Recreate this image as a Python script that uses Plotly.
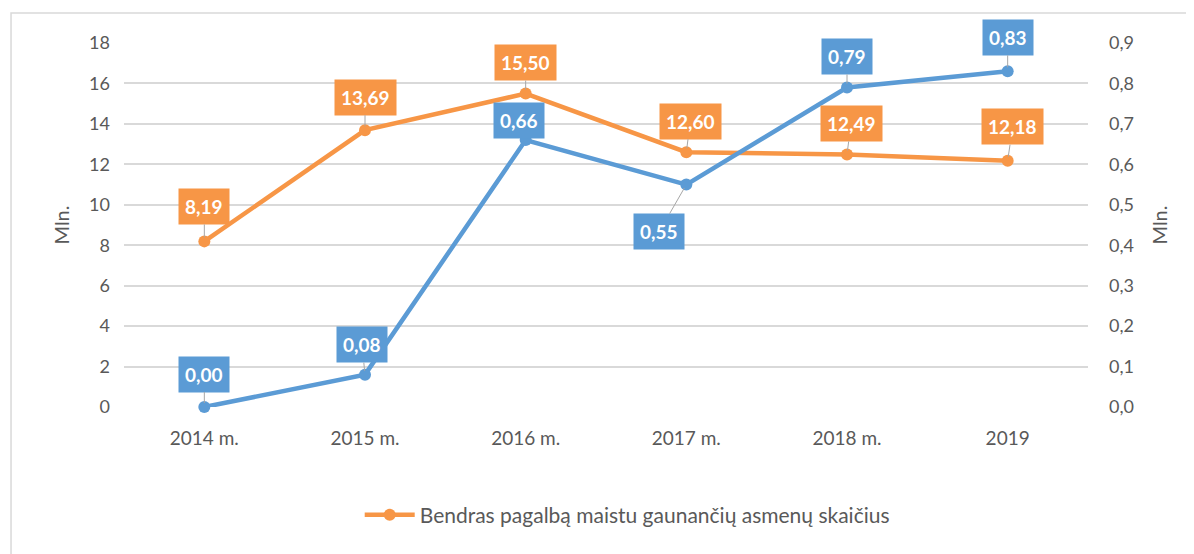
import plotly.graph_objects as go

categories = ["2014 m.", "2015 m.", "2016 m.", "2017 m.", "2018 m.", "2019"]
orange_values = [8.19, 13.69, 15.50, 12.60, 12.49, 12.18]
blue_values = [0.00, 0.08, 0.66, 0.55, 0.79, 0.83]
orange_name = "Bendras pagalbą maistu gaunančių asmenų skaičius"
blue_name = "Mln. (dešinė ašis)"
left_ticks = [0, 2, 4, 6, 8, 10, 12, 14, 16, 18]
right_ticks = [0.0, 0.1, 0.2, 0.3, 0.4, 0.5, 0.6, 0.7, 0.8, 0.9]

ORANGE = "#F79646"
BLUE = "#5B9BD5"
FONT = "Lato"
GREY = "#595959"

def fmt(v, d=2):
    return f"{v:.{d}f}".replace(".", ",")

fig = go.Figure()
fig.add_trace(go.Scatter(
    x=categories, y=orange_values, name=orange_name, mode="lines+markers",
    line=dict(color=ORANGE, width=4.5), marker=dict(size=12, color=ORANGE),
    yaxis="y", cliponaxis=False))
fig.add_trace(go.Scatter(
    x=categories, y=blue_values, name=blue_name, mode="lines+markers",
    line=dict(color=BLUE, width=4.5), marker=dict(size=12, color=BLUE),
    yaxis="y2", showlegend=False, cliponaxis=False))

orange_off = [(0, -35), (0, -33), (0, -31), (4, -31), (4, -31), (5, -34)]
blue_off = [(0, -33), (-3, -30), (-7, -20), (-27, 47), (0, -31), (0, -34)]

annotations = []
for i, (v, (ax, ay)) in enumerate(zip(orange_values, orange_off)):
    annotations.append(dict(
        x=i, y=v, xref="x", yref="y", text=f"<b>{fmt(v)}</b>",
        showarrow=True, ax=ax, ay=ay, arrowhead=0, arrowwidth=1,
        arrowcolor="#A6A6A6", standoff=4,
        bgcolor=ORANGE, borderpad=6, font=dict(family=FONT, size=19, color="white")))
for i, (v, (ax, ay)) in enumerate(zip(blue_values, blue_off)):
    annotations.append(dict(
        x=i, y=v, xref="x", yref="y2", text=f"<b>{fmt(v)}</b>",
        showarrow=True, ax=ax, ay=ay, arrowhead=0, arrowwidth=1,
        arrowcolor="#A6A6A6", standoff=4,
        bgcolor=BLUE, borderpad=6, font=dict(family=FONT, size=19, color="white")))

fig.update_layout(
    width=1194, height=554,
    margin=dict(l=116, r=114, t=35, b=155),
    paper_bgcolor="white", plot_bgcolor="white",
    font=dict(family=FONT, size=18, color=GREY),
    xaxis=dict(
        type="category", range=[-0.5, 5.5], showgrid=False, showline=False,
        zeroline=False, ticks="", ticklabelstandoff=18,
        tickfont=dict(size=19, color=GREY)),
    yaxis=dict(
        range=[0, 18], tickvals=left_ticks, ticktext=[str(t) for t in left_ticks],
        showgrid=True, gridcolor="#D9D9D9", gridwidth=1.5, zeroline=False,
        showline=False, ticks="", ticklabelstandoff=13,
        title=dict(text="Mln.", standoff=14, font=dict(size=20, color=GREY)),
        automargin=False, tickfont=dict(size=18, color=GREY)),
    yaxis2=dict(
        range=[0, 0.9], overlaying="y", side="right",
        tickvals=right_ticks, ticktext=[fmt(t, 1) for t in right_ticks],
        showgrid=False, zeroline=False, showline=False, ticks="",
        ticklabelstandoff=20,
        title=dict(text="Mln.", standoff=20, font=dict(size=20, color=GREY)),
        automargin=False, tickfont=dict(size=18, color=GREY)),
    showlegend=True,
    legend=dict(
        orientation="h", x=0.522, xanchor="center", y=-0.297, yanchor="middle",
        font=dict(size=21, color=GREY), itemwidth=50, bgcolor="rgba(0,0,0,0)"),
    annotations=annotations,
    shapes=[dict(
        type="rect", xref="paper", yref="paper",
        x0=-0.1172, x1=1.13, y0=-0.5, y1=1.0824,
        line=dict(color="#D9D9D9", width=1.5), fillcolor="rgba(0,0,0,0)", layer="below")],
)

fig.write_html("out.html")
